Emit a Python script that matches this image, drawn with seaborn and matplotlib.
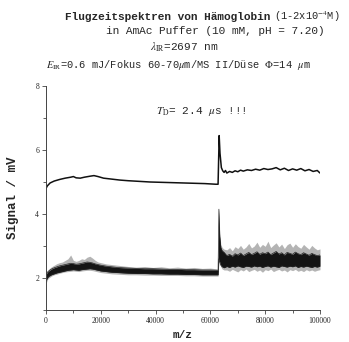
import numpy as np
import pandas as pd
import matplotlib
matplotlib.use("Agg")
import matplotlib.pyplot as plt
import seaborn as sns
from matplotlib.ticker import MultipleLocator

# ---- data ----
upper_x = [0, 500, 1500, 3000, 5000, 7000, 9000, 10000, 11000, 12500,
           14000, 16000, 17500, 19000, 21000, 24000, 27000, 30000, 34000, 38000,
           42000, 46000, 50000, 54000, 58000, 62000, 62800, 63200, 63500, 64000,
           64500, 65000, 65500, 66000, 67000, 68000, 69000, 70000, 71000, 72000,
           73500, 75000, 76500, 78000, 79500, 81000, 82500, 84000, 85500, 87000,
           88500, 90000, 91500, 93000, 94500, 96000, 97500, 99000, 100000]
upper_y = [4.80, 4.88, 4.97, 5.03, 5.08, 5.12, 5.15, 5.17, 5.13, 5.12,
           5.15, 5.18, 5.20, 5.17, 5.12, 5.09, 5.06, 5.04, 5.02, 5.00,
           4.99, 4.98, 4.97, 4.96, 4.95, 4.93, 4.93, 6.45, 5.90, 5.45,
           5.35, 5.30, 5.36, 5.28, 5.33, 5.30, 5.35, 5.32, 5.37, 5.34,
           5.38, 5.36, 5.40, 5.37, 5.42, 5.39, 5.41, 5.45, 5.38, 5.43,
           5.36, 5.41, 5.37, 5.42, 5.35, 5.39, 5.33, 5.36, 5.28]

lower_x = [0, 500, 1000, 2000, 3000, 4000, 5000, 6000, 7000, 8000,
           9000, 10000, 11000, 12000, 13000, 14000, 15000, 16000, 17000, 18000,
           19000, 20000, 22000, 24000, 26000, 28000, 30000, 33000, 36000, 39000,
           42000, 45000, 48000, 51000, 54000, 57000, 60000, 62800,
           63100, 63400, 63800, 64300, 65000,
           66000, 67000, 68000, 69000, 70000, 71000, 72000, 73000, 74000, 75000,
           76000, 77000, 78000, 79000, 80000, 81000, 82000, 83000, 84000, 85000,
           86000, 87000, 88000, 89000, 90000, 91000, 92000, 93000, 94000, 95000,
           96000, 97000, 98000, 99000, 100000]
# dense (black) core of the noisy lower trace
lower_lo = [1.90, 2.00, 2.05, 2.10, 2.13, 2.16, 2.18, 2.20, 2.22, 2.24,
            2.25, 2.26, 2.25, 2.24, 2.26, 2.27, 2.28, 2.29, 2.28, 2.26,
            2.24, 2.22, 2.20, 2.18, 2.17, 2.16, 2.15, 2.14, 2.14, 2.13,
            2.13, 2.12, 2.12, 2.11, 2.11, 2.10, 2.10, 2.10,
            2.60, 2.50, 2.40, 2.35, 2.32,
            2.36, 2.33, 2.37, 2.34, 2.38, 2.35, 2.33, 2.37, 2.36, 2.34,
            2.38, 2.35, 2.37, 2.33, 2.36, 2.38, 2.34, 2.37, 2.35, 2.33,
            2.38, 2.36, 2.34, 2.37, 2.35, 2.38, 2.33, 2.36, 2.34, 2.37,
            2.35, 2.33, 2.36, 2.34, 2.37]
lower_hi = [2.10, 2.18, 2.22, 2.28, 2.32, 2.35, 2.38, 2.40, 2.42, 2.44,
            2.46, 2.45, 2.43, 2.44, 2.46, 2.48, 2.50, 2.49, 2.47, 2.44,
            2.42, 2.40, 2.37, 2.35, 2.33, 2.32, 2.31, 2.30, 2.29, 2.29,
            2.28, 2.27, 2.27, 2.26, 2.26, 2.25, 2.25, 2.24,
            4.15, 3.30, 2.95, 2.85, 2.80,
            2.70, 2.74, 2.68, 2.76, 2.72, 2.78, 2.70, 2.75, 2.80, 2.73,
            2.77, 2.82, 2.74, 2.79, 2.76, 2.81, 2.73, 2.78, 2.83, 2.75,
            2.79, 2.72, 2.80, 2.77, 2.74, 2.81, 2.76, 2.73, 2.79, 2.75,
            2.71, 2.77, 2.73, 2.70, 2.72]
# sparse (grey) outliers around the core
lower_out_lo = [1.82, 1.95, 2.00, 2.06, 2.10, 2.12, 2.15, 2.17, 2.19, 2.20,
                2.21, 2.22, 2.21, 2.20, 2.22, 2.23, 2.24, 2.24, 2.23, 2.21,
                2.19, 2.17, 2.15, 2.13, 2.12, 2.11, 2.10, 2.10, 2.09, 2.09,
                2.08, 2.08, 2.08, 2.07, 2.07, 2.06, 2.06, 2.06,
                2.55, 2.45, 2.35, 2.28, 2.25,
                2.25, 2.21, 2.27, 2.23, 2.19, 2.26, 2.22, 2.28, 2.20, 2.24,
                2.27, 2.21, 2.25, 2.18, 2.26, 2.23, 2.28, 2.20, 2.24, 2.27,
                2.22, 2.25, 2.19, 2.26, 2.23, 2.27, 2.21, 2.24, 2.20, 2.26,
                2.22, 2.25, 2.21, 2.24, 2.26]
lower_out_hi = [2.15, 2.22, 2.28, 2.35, 2.40, 2.45, 2.48, 2.50, 2.55, 2.60,
                2.72, 2.55, 2.52, 2.55, 2.60, 2.58, 2.65, 2.68, 2.62, 2.55,
                2.50, 2.48, 2.44, 2.42, 2.40, 2.38, 2.36, 2.34, 2.36, 2.33,
                2.35, 2.32, 2.34, 2.31, 2.33, 2.30, 2.31, 2.28,
                4.20, 3.40, 3.05, 2.95, 2.90,
                2.88, 2.95, 2.85, 2.98, 2.92, 3.02, 2.90, 2.97, 3.08, 2.94,
                3.00, 3.12, 2.96, 3.05, 2.99, 3.15, 2.95, 3.03, 3.10, 2.97,
                3.06, 2.92, 3.04, 3.09, 2.96, 3.07, 2.98, 2.93, 3.05, 2.97,
                2.90, 3.02, 2.94, 2.88, 2.91]

x_ticks = [0, 20000, 40000, 60000, 80000, 100000]
y_ticks = [2, 4, 6, 8]

# ---- figure ----
sns.set_style("ticks")
plt.rcParams["font.family"] = ["Liberation Serif", "DejaVu Serif"]
plt.rcParams["mathtext.fontset"] = "stix"

W, H = 349, 342
fig = plt.figure(figsize=(W / 100, H / 100), dpi=100)
ax = fig.add_axes([46 / W, 1 - 310 / H, (320 - 46) / W, (310 - 86) / H])

df_u = pd.DataFrame({"mz": upper_x, "sig": upper_y})
df_lo = pd.DataFrame({"mz": lower_x, "sig": lower_lo})
df_hi = pd.DataFrame({"mz": lower_x, "sig": lower_hi})

ax.fill_between(lower_x, lower_out_lo, lower_out_hi, color="#b4b4b4", lw=0)
ax.fill_between(lower_x, lower_lo, lower_hi, color="#141414", lw=0)
sns.lineplot(data=df_lo, x="mz", y="sig", ax=ax, color="#222222", lw=0.5, sort=False)
sns.lineplot(data=df_hi, x="mz", y="sig", ax=ax, color="#222222", lw=0.5, sort=False)
sns.lineplot(data=df_u, x="mz", y="sig", ax=ax, color="#111111", lw=1.1, sort=False)

ax.set_xlim(0, 100000)
ax.set_ylim(1, 8)
ax.set_xticks(x_ticks)
ax.set_xticklabels([str(v) for v in x_ticks])
ax.set_yticks(y_ticks)
ax.set_yticklabels([str(v) for v in y_ticks])
ax.xaxis.set_minor_locator(MultipleLocator(10000))
ax.yaxis.set_minor_locator(MultipleLocator(1))
ax.tick_params(which="both", direction="out", width=0.6, color="#444444",
               labelsize=5.5, pad=2)
ax.tick_params(which="major", length=3)
ax.tick_params(which="minor", length=2)
sns.despine(ax=ax)
for s in ("left", "bottom"):
    ax.spines[s].set_linewidth(0.7)
    ax.spines[s].set_color("#444444")

ax.set_xlabel("m/z", fontsize=8, fontweight="bold", family="Liberation Mono", labelpad=4)
ax.set_ylabel("Signal / mV", fontsize=9, fontweight="bold", family="Liberation Mono", labelpad=12)

ax.text(40000, 7.2, r"$T_{\rm D}$= 2.4 $\mu$s !!!", fontsize=8,
        family="Liberation Mono", ha="left", va="center")

mono = "Liberation Mono"
fig.text(65 / W, 1 - 17 / H, "Flugzeitspektren von Hämoglobin", fontsize=8,
         fontweight="bold", family=mono, ha="left", va="center")
fig.text(274 / W, 1 - 17 / H, r"(1-2x10$^{-4}$M)", fontsize=7.5,
         family=mono, ha="left", va="center")
fig.text(215 / W, 1 - 31 / H, "in AmAc Puffer (10 mM, pH = 7.20)", fontsize=8,
         family=mono, ha="center", va="center")
fig.text(184 / W, 1 - 47 / H, r"$\lambda_{\rm IR}$=2697 nm", fontsize=8,
         family=mono, ha="center", va="center")
fig.text(178 / W, 1 - 65 / H,
         r"$E_{\rm IR}$=0.6 mJ/Fokus 60-70$\mu$m/MS II/Düse $\Phi$=14 $\mu$m",
         fontsize=7.5, family=mono, ha="center", va="center")

fig.savefig("out.png", dpi=100)
